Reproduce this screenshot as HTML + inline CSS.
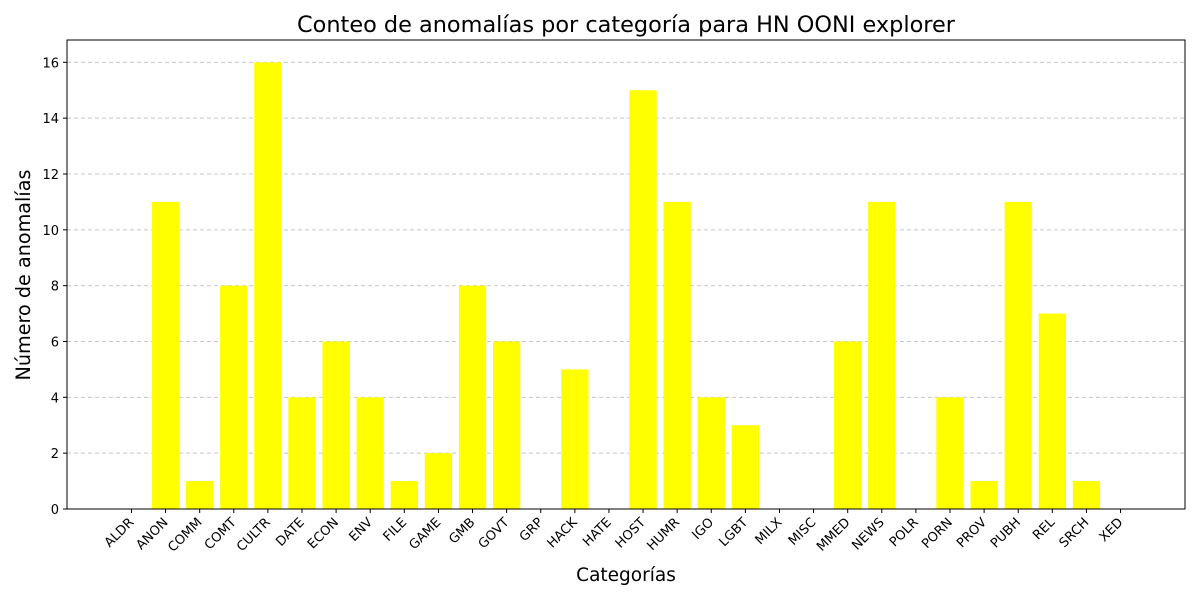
<!DOCTYPE html>
<html><head><meta charset="utf-8"><style>body{margin:0;background:#fff}svg{display:block;font-family:"DejaVu Sans","Liberation Sans",sans-serif}</style></head>
<body>
<svg id="chart" width="1200" height="600">
<rect x="0" y="0" width="1200" height="600" fill="#fff"/>
<text x="626" y="32" font-size="22.4" text-anchor="middle">Conteo de anomalías por categoría para HN OONI explorer</text>
<g id="grid"></g><g id="bars"></g><g id="axes"></g>
<rect x="67" y="40" width="1118" height="469" fill="none" stroke="#000" stroke-width="1"/>
<text x="626" y="581" font-size="18.5" text-anchor="middle">Categorías</text>
<text transform="translate(30,275) rotate(-90)" font-size="19.2" text-anchor="middle">Número de anomalías</text>
</svg>
<script>
const categories=["ALDR","ANON","COMM","COMT","CULTR","DATE","ECON","ENV","FILE","GAME","GMB","GOVT","GRP","HACK","HATE","HOST","HUMR","IGO","LGBT","MILX","MISC","MMED","NEWS","POLR","PORN","PROV","PUBH","REL","SRCH","XED"];
const values=[0,11,1,8,16,4,6,4,1,2,8,6,0,5,0,15,11,4,3,0,0,6,11,0,4,1,11,7,1,0];
const yTicks=[0,2,4,6,8,10,12,14,16];
const NS="http://www.w3.org/2000/svg";
const L=67,R=1185,T=40,B=509;
const n=categories.length, span=(n-1)+0.8, m=span*0.05;
const xmin=-0.4-m, xmax=n-1+0.4+m;
const x=i=>L+(i-xmin)/(xmax-xmin)*(R-L);
const ymax=16.8;
const y=v=>B-v/ymax*(B-T);
const bw=0.8*(R-L)/(xmax-xmin);
function mk(tag,attrs,parent,txt){const e=document.createElementNS(NS,tag);for(const k in attrs)e.setAttribute(k,attrs[k]);if(txt!==undefined)e.textContent=txt;parent.appendChild(e);return e;}
const grid=document.getElementById('grid'),bars=document.getElementById('bars'),axes=document.getElementById('axes');
yTicks.forEach(t=>{
 const g=mk('line',{x1:L,x2:R,y1:y(t),y2:y(t),stroke:'#c8c8c8','stroke-dasharray':'4,3','stroke-width':1},grid);
 
 
 const tk=mk('line',{x1:L-4,x2:L,y1:y(t),y2:y(t),stroke:'#000'},axes);
 
 
 const lb=mk('text',{x:L-8,y:y(t)+5,'font-size':13,'text-anchor':'end'},axes,String(t));
 
 
});
categories.forEach((c,i)=>{
 const v=values[i];
 const b=mk('rect',{x:x(i)-bw/2,y:y(v),width:bw,height:B-y(v),fill:'#ffff00'},bars);
 
 
 const tk=mk('line',{x1:x(i),x2:x(i),y1:B,y2:B+4,stroke:'#000'},axes);
 
 
 const lb=mk('text',{transform:`translate(${x(i)+3},${B+14}) rotate(-45)`,'font-size':13,'text-anchor':'end'},axes,c);
 
 
});
</script>
</body></html>
